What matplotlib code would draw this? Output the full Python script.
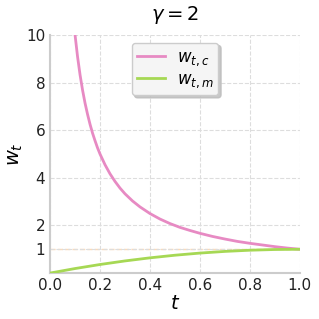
import numpy as np
import matplotlib.pyplot as plt

# values
t_c = [0.10, 0.11, 0.12, 0.13, 0.14, 0.15, 0.16, 0.17, 0.18, 0.19, 0.20,
       0.22, 0.24, 0.26, 0.28, 0.30, 0.33, 0.36, 0.40, 0.44, 0.48, 0.52,
       0.56, 0.60, 0.65, 0.70, 0.75, 0.80, 0.85, 0.90, 0.95, 1.00]
w_c = [10.0, 9.09, 8.33, 7.69, 7.14, 6.67, 6.25, 5.88, 5.56, 5.26, 5.0,
       4.55, 4.17, 3.85, 3.57, 3.33, 3.03, 2.78, 2.5, 2.27, 2.08, 1.92,
       1.79, 1.67, 1.54, 1.43, 1.33, 1.25, 1.18, 1.11, 1.05, 1.0]
t_m = [0.0, 0.1, 0.2, 0.3, 0.4, 0.5, 0.6, 0.7, 0.8, 0.9, 1.0]
w_m = [0.0, 0.19, 0.36, 0.51, 0.64, 0.75, 0.84, 0.91, 0.96, 0.99, 1.0]
yticks = [1, 2, 4, 6, 8, 10]
xticks = [0.0, 0.2, 0.4, 0.6, 0.8, 1.0]

fig = plt.figure(figsize=(3.19, 3.19), dpi=100)
ax = fig.add_axes([0.157, 0.144, 0.783, 0.746])

ax.axhline(1, color='#fdd9b5', lw=1, ls='--', zorder=1)
ax.plot(t_c, w_c, color='#e78ac3', lw=2, label=r'$w_{t,c}$', zorder=3)
ax.plot(t_m, w_m, color='#a6d854', lw=2, label=r'$w_{t,m}$', zorder=3)

ax.set_xlim(0, 1)
ax.set_ylim(0, 10)
ax.set_xticks(xticks)
ax.set_yticks(yticks)
ax.tick_params(labelsize=11, length=0, colors='#222222')
ax.grid(True, ls='--', color='#dddddd', lw=0.8)
for s in ['top', 'right']:
    ax.spines[s].set_visible(False)
for s in ['left', 'bottom']:
    ax.spines[s].set_color('#cccccc')
    ax.spines[s].set_linewidth(1.5)

ax.set_xlabel('$t$', fontsize=14, labelpad=1)
ax.set_ylabel('$w_t$', fontsize=14, labelpad=1)
ax.set_title(r'$\gamma = 2$', fontsize=14, pad=11)

leg = ax.legend(loc='upper center', fontsize=12, frameon=True, fancybox=True,
                shadow={'color': '#bbbbbb', 'alpha': 0.8}, borderpad=0.3,
                labelspacing=0.15, handlelength=1.7, handletextpad=0.7,
                borderaxespad=0.45)
leg.get_frame().set_facecolor('#f5f5f5')
leg.get_frame().set_edgecolor('#cccccc')

fig.savefig('out.png', dpi=100)
